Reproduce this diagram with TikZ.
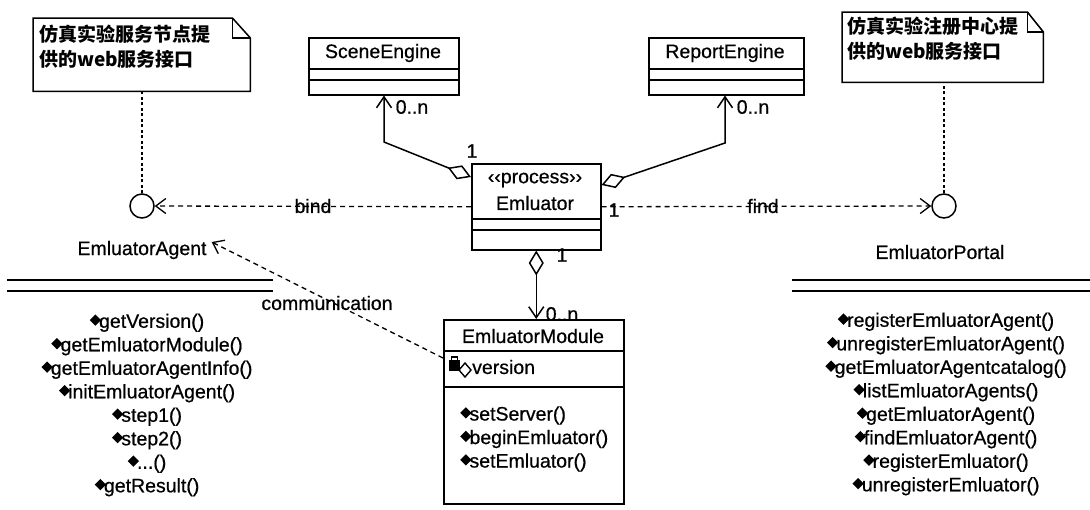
\documentclass[tikz,border=0pt]{standalone}
\usepackage{fontspec}
\setmainfont{Liberation Sans}
\newfontfamily\heavyf{Liberation Sans}[FakeBold=0.6]
\newfontfamily\cjkf{Noto Sans CJK SC}
\usetikzlibrary{arrows.meta}
\newcommand\dia{\raisebox{2pt}{\rotatebox{45}{\rule{8pt}{8pt}}}\kern-2pt}
\begin{document}
\begin{tikzpicture}[x=1pt,y=-1pt,
  txt/.style={font=\heavyf\fontsize{19.5}{23.5}\selectfont, inner sep=0pt},
  cjktxt/.style={font=\cjkf\bfseries\fontsize{19}{25}\selectfont, inner sep=0pt, align=left},
  box/.style={inner sep=0pt, line width=1.5pt},
  ln/.style={line width=1.5pt},
  dsh/.style={line width=1.3pt, dash pattern=on 5pt off 4pt},
  dotl/.style={line width=2pt, dash pattern=on 3pt off 2.5pt},
  barb/.style={-{Straight Barb[length=10pt,width=15pt]}},
  agg/.style={{Diamond[open,length=25pt,width=15pt]}-{Straight Barb[length=11pt,width=15pt]}}
]
\useasboundingbox[fill=white] (0,0) rectangle (1090,509);

% ---- notes ----
\node[inner sep=0pt, minimum width=217pt, minimum height=73pt, anchor=north west] (noteL) at (33,18) {};
\draw[ln] (noteL.north west) -- ([xshift=-18pt]noteL.north east) -- ([yshift=-20pt]noteL.north east) -- (noteL.south east) -- (noteL.south west) -- cycle;
\draw[ln] ([xshift=-18pt]noteL.north east) -- ([xshift=-18pt,yshift=-20pt]noteL.north east) -- ([yshift=-20pt]noteL.north east);
\node[cjktxt, anchor=north west] (noteLt) at (39,25) {仿真实验服务节点提\\供的web服务接口};

\node[inner sep=0pt, minimum width=201pt, minimum height=70pt, anchor=north west] (noteR) at (842,12) {};
\draw[ln] (noteR.north west) -- ([xshift=-16pt]noteR.north east) -- ([yshift=-20pt]noteR.north east) -- (noteR.south east) -- (noteR.south west) -- cycle;
\draw[ln] ([xshift=-16pt]noteR.north east) -- ([xshift=-16pt,yshift=-20pt]noteR.north east) -- ([yshift=-20pt]noteR.north east);
\node[cjktxt, anchor=north west] (noteRt) at (847,17) {仿真实验注册中心提\\供的web服务接口};

% ---- interfaces ----
\node[circle, draw, ln, minimum size=24pt, inner sep=0pt] (circL) at (142,206) {};
\node[circle, draw, ln, minimum size=24pt, inner sep=0pt] (circR) at (944,206) {};
\draw[dotl] (circL.north) -- (circL.north |- noteL.south);
\draw[dotl] (circR.north) -- (circR.north |- noteR.south);
\node[txt] (agentL) at (142,250) {EmluatorAgent};
\node[txt] (portalL) at (940,252) {EmluatorPortal};
\draw[ln] (7,280) -- (273,280) (7,291) -- (273,291);
\draw[ln] (792,280) -- (1090,280) (792,291) -- (1090,291);

\node[txt, align=center] (opsL) at (147,405) {\dia getVersion()\\ \dia getEmluatorModule()\\ \dia getEmluatorAgentInfo()\\ \dia initEmluatorAgent()\\ \dia step1()\\ \dia step2()\\ \dia ...()\\ \dia getResult()};
\node[txt, align=center] (opsR) at (946,404) {\dia registerEmluatorAgent()\\ \dia unregisterEmluatorAgent()\\ \dia getEmluatorAgentcatalog()\\ \dia listEmluatorAgents()\\ \dia getEmluatorAgent()\\ \dia findEmluatorAgent()\\ \dia registerEmluator()\\ \dia unregisterEmluator()};

% ---- classes ----
\node[draw, box, minimum width=150pt, minimum height=57pt, anchor=north west] (scene) at (308,37) {};
\draw[ln] ([yshift=-32pt]scene.north west) -- ([yshift=-32pt]scene.north east) ([yshift=-43pt]scene.north west) -- ([yshift=-43pt]scene.north east);
\node[txt] (sceneN) at (383,53) {SceneEngine};

\node[draw, box, minimum width=155pt, minimum height=57pt, anchor=north west] (report) at (648,37) {};
\draw[ln] ([yshift=-32pt]report.north west) -- ([yshift=-32pt]report.north east) ([yshift=-43pt]report.north west) -- ([yshift=-43pt]report.north east);
\node[txt] (reportN) at (725,53) {ReportEngine};

\node[draw, box, minimum width=129pt, minimum height=86pt, anchor=north west] (emul) at (471,163) {};
\draw[ln] ([yshift=-56pt]emul.north west) -- ([yshift=-56pt]emul.north east) ([yshift=-67pt]emul.north west) -- ([yshift=-67pt]emul.north east);
\node[txt] (emulS) at (535,180) {‹‹process››};
\node[txt] (emulN) at (535,203) {Emluator};

\node[draw, box, minimum width=180pt, minimum height=184pt, anchor=north west] (module) at (443,319) {};
\draw[ln] ([yshift=-32pt]module.north west) -- ([yshift=-32pt]module.north east) ([yshift=-68pt]module.north west) -- ([yshift=-68pt]module.north east);
\node[txt] (moduleN) at (533,336) {EmluatorModule};
\node[txt, anchor=west] (version) at (472,367) {version};
\fill (449,360) rectangle (460,371);
\draw[line width=1.6pt] (451.5,361) -- (451.5,357) -- (457.5,357) -- (457.5,361);
\draw[line width=1.4pt, fill=white] (465,363) -- (471,370) -- (465,377) -- (459,370) -- cycle;
\node[txt, align=left, anchor=west] (moduleOps) at (460,439) {\dia setServer()\\ \dia beginEmluator()\\ \dia setEmluator()};

% ---- connectors ----
\coordinate (kL) at (384,142);
\coordinate (kR) at (725,143);
\draw[ln, agg] ([yshift=-14pt]emul.north west) -- (kL) -- (kL |- scene.south);
\draw[ln, agg] ([yshift=-22pt]emul.north east) -- (kR) -- (kR |- report.south);
\draw[ln, agg] (emul.south) -- (emul.south |- module.north);
\draw[dsh, barb] (emul.west) -- (circL.east);
\draw[dsh, barb] (emul.east) -- (circR.west);
\draw[dsh, barb] ([yshift=-39pt]module.north west) -- ([xshift=5pt,yshift=8pt]agentL.east);

% ---- labels ----
\node[txt] (lbind) at (313,206) {bind};
\node[txt] (lfind) at (763,206) {find};
\node[txt] (lcomm) at (327,303) {communication};
\node[txt] (m1) at (472,151) {1};
\node[txt] (m2) at (412,107) {0..n};
\node[txt] (m3) at (753,107) {0..n};
\node[txt] (m4) at (614,210) {1};
\node[txt] (m5) at (562,255) {1};
\node[txt] (m6) at (562,314) {0..n};
\end{tikzpicture}
\end{document}
